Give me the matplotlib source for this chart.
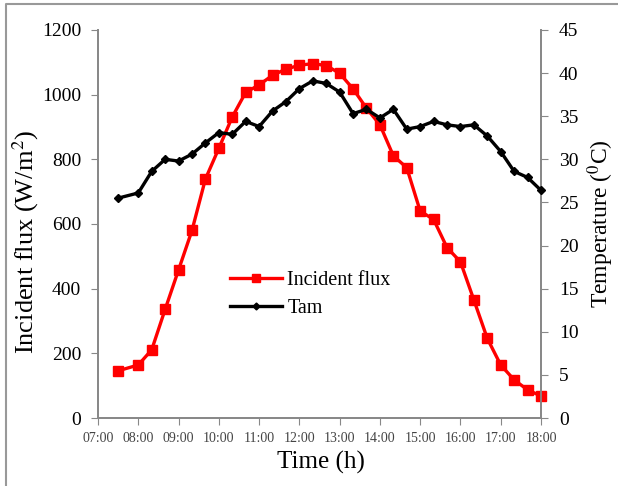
import matplotlib.pyplot as plt
from matplotlib.lines import Line2D

plt.rcParams['font.family'] = ['Liberation Serif', 'DejaVu Serif']
plt.rcParams['mathtext.fontset'] = 'stix'

# times as hours after 07:00 (07:30, then every 20 min from 08:00 to 18:00)
times = ["07:30", "08:00", "08:20", "08:40", "09:00", "09:20", "09:40", "10:00",
         "10:20", "10:40", "11:00", "11:20", "11:40", "12:00", "12:20", "12:40",
         "13:00", "13:20", "13:40", "14:00", "14:20", "14:40", "15:00", "15:20",
         "15:40", "16:00", "16:20", "16:40", "17:00", "17:20", "17:40", "18:00"]
flux = [146, 164, 211, 336, 458, 580, 739, 834, 931, 1007, 1030, 1060, 1079, 1091,
        1096, 1090, 1066, 1018, 958, 907, 811, 774, 640, 614, 527, 483, 365, 246,
        164, 118, 87, 68]
tam = [25.5, 26.1, 28.6, 30.0, 29.8, 30.6, 31.9, 33.1, 32.9, 34.4, 33.8, 35.6,
       36.7, 38.2, 39.1, 38.8, 37.8, 35.3, 35.8, 34.8, 35.8, 33.5, 33.8, 34.4,
       34.0, 33.8, 34.0, 32.7, 30.9, 28.6, 27.9, 26.4]
hour_labels = ["07:00", "08:00", "09:00", "10:00", "11:00", "12:00", "13:00",
               "14:00", "15:00", "16:00", "17:00", "18:00"]


def to_h(s):
    h, m = s.split(":")
    return int(h) - 7 + int(m) / 60


x = [to_h(t) for t in times]

fig = plt.figure(figsize=(6.18, 4.86), dpi=100)
ax = fig.add_axes([0.1586, 0.1399, 0.7168, 0.7984])
ax2 = ax.twinx()

ax.plot(x, flux, color='#ff0000', lw=2.4, marker='s', ms=6.5, zorder=3, clip_on=False)
ax2.plot(x, tam, color='black', lw=2.4, marker='D', ms=4, zorder=3, clip_on=False)

ax.set_xlim(0, 11)
ax.set_ylim(0, 1200)
ax2.set_ylim(0, 45)
ax.set_xticks(range(12))
ax.set_xticklabels(hour_labels, fontsize=10, color='#444444')
ax.set_yticks(range(0, 1201, 200))
ax2.set_yticks(range(0, 46, 5))
ax.tick_params(axis='y', labelsize=14, length=5, color='#888888', pad=7)
ax2.tick_params(axis='y', labelsize=14, length=5, color='#888888', pad=8)
ax.tick_params(axis='x', length=5, color='#888888', pad=5)

for a in (ax, ax2):
    a.spines['top'].set_visible(False)
    for s in ('left', 'right', 'bottom'):
        a.spines[s].set_color('#888888')
        a.spines[s].set_linewidth(1.3)

fig.text(321 / 618, 1 - 462 / 486, "Time (h)", fontsize=18, ha='center', va='center')
fig.text(26 / 618, 1 - 242 / 486, "Incident flux (W/m$^2$)", fontsize=19,
         rotation=90, ha='center', va='center')
fig.text(601 / 618, 1 - 224 / 486, "Temperature ($^0$C)", fontsize=17,
         rotation=90, ha='center', va='center')

handles = [Line2D([], [], color='#ff0000', lw=2.4, marker='s', ms=6),
           Line2D([], [], color='black', lw=2.4, marker='D', ms=3.5)]
ax.legend(handles, ["Incident flux", "Tam"], loc='upper left',
          bbox_to_anchor=(0.298, 0.379), frameon=False, fontsize=14.5,
          borderpad=0, borderaxespad=0, handlelength=2.6, handletextpad=0.25,
          labelspacing=0.45)

# border of the picture (left and top edge)
fig.add_artist(Line2D([6 / 618, 6 / 618, 1], [0, 1 - 4 / 486, 1 - 4 / 486],
                      transform=fig.transFigure, color='#999999', lw=1.5))

fig.savefig("out.png", dpi=100)
